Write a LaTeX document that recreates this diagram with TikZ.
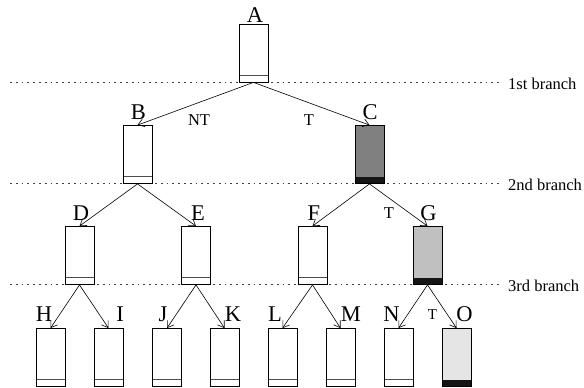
\documentclass[tikz,border=0pt]{standalone}
\usepackage{fontspec}
\setmainfont{Liberation Serif}
\usetikzlibrary{arrows.meta}
\definecolor{darkfill}{HTML}{808080}
\definecolor{midfill}{HTML}{C0C0C0}
\definecolor{lightfill}{HTML}{E5E5E5}
\definecolor{bandblack}{HTML}{151515}
\tikzset{
  box/.style={draw=black, line width=0.8pt, rectangle, minimum width=29pt, minimum height=58pt, inner sep=0pt, fill=white,
    path picture={\draw[black!70, line width=0.8pt] ([yshift=7pt]path picture bounding box.south west) -- ([yshift=7pt]path picture bounding box.south east);}},
  takenbox/.style={draw=black, line width=0.8pt, rectangle, minimum width=29pt, minimum height=58pt, inner sep=0pt, fill=#1,
    path picture={\fill[bandblack] (path picture bounding box.south west) rectangle ([yshift=7pt]path picture bounding box.south east);}},
  letter/.style={font=\fontsize{22.5}{22.5}\selectfont, anchor=base, inner sep=0pt},
  edgelab/.style={font=\fontsize{16.5}{16.5}\selectfont, inner sep=0pt},
  branchlab/.style={font=\fontsize{16.5}{16.5}\selectfont, anchor=base west, inner sep=0pt},
  conn/.style={line width=0.6pt, -{Straight Barb[length=6pt,width=8pt,line width=0.6pt]}},
  dotline/.style={line width=0.8pt, black!75, dash pattern=on 1.8pt off 4pt},
}
\begin{document}
\begin{tikzpicture}[x=1pt,y=-1pt]
\useasboundingbox (0,0) rectangle (584,388);
% dotted branch lines
\coordinate (d1) at (10,82);
\coordinate (e1) at (500,82);
\coordinate (d2) at (10,183.5);
\coordinate (e2) at (500,183.5);
\coordinate (d3) at (10,284.5);
\coordinate (e3) at (500,284.5);
\node[branchlab] (b1) at (508,89) {1st branch};
\node[branchlab] (b2) at (508,190.5) {2nd branch};
\node[branchlab] (b3) at (508,291.5) {3rd branch};
\draw[dotline] (d1) -- (e1);
\draw[dotline] (d2) -- (e2);
\draw[dotline] (d3) -- (e3);
% boxes
\node[box] (A) at (253.5,53) {};
\node[box] (B) at (137.5,154.5) {};
\node[takenbox=darkfill] (C) at (369.5,154.5) {};
\node[box] (D) at (79.5,255.5) {};
\node[box] (E) at (196,255.5) {};
\node[box] (F) at (312.5,255.5) {};
\node[takenbox=midfill] (G) at (427.5,255.5) {};
\node[box] (H) at (50.5,357.5) {};
\node[box] (I) at (108.5,357.5) {};
\node[box] (J) at (167,357.5) {};
\node[box] (K) at (224.5,357.5) {};
\node[box] (L) at (282.5,357.5) {};
\node[box] (M) at (340.5,357.5) {};
\node[box] (N) at (398.5,357.5) {};
\node[takenbox=lightfill] (O) at (456.5,357.5) {};
% letters
\node[letter] (lA) at (255,23) {A};
\node[letter] (lB) at (138.5,119) {B};
\node[letter] (lC) at (370,119) {C};
\node[letter] (lD) at (81,220) {D};
\node[letter] (lE) at (198,220) {E};
\node[letter] (lF) at (314,220) {F};
\node[letter] (lG) at (428.5,220) {G};
\node[letter] (lH) at (44,321) {H};
\node[letter] (lI) at (120,321) {I};
\node[letter] (lJ) at (163,321) {J};
\node[letter] (lK) at (233,321) {K};
\node[letter] (lL) at (275,321) {L};
\node[letter] (lM) at (351,321) {M};
\node[letter] (lN) at (391.5,321) {N};
\node[letter] (lO) at (464.5,321) {O};
% edge labels
\node[edgelab] (nt) at (199,120) {NT};
\node[edgelab] (t1) at (309,120) {T};
\node[edgelab] (t2) at (389,213) {T};
\node[edgelab,font=\fontsize{15}{15}\selectfont] (t3) at (432.5,315) {T};
% connectors
\draw[conn] (A.south) -- (B.north);
\draw[conn] (A.south) -- (C.north);
\draw[conn] (B.south) -- (D.north);
\draw[conn] (B.south) -- (E.north);
\draw[conn] (C.south) -- (F.north);
\draw[conn] (C.south) -- (G.north);
\draw[conn] (D.south) -- (H.north);
\draw[conn] (D.south) -- (I.north);
\draw[conn] (E.south) -- (J.north);
\draw[conn] (E.south) -- (K.north);
\draw[conn] (F.south) -- (L.north);
\draw[conn] (F.south) -- (M.north);
\draw[conn] (G.south) -- (N.north);
\draw[conn] (G.south) -- (O.north);
\end{tikzpicture}
\end{document}
